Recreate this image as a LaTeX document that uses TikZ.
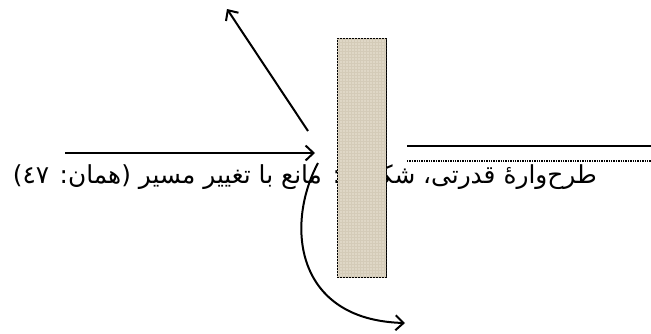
\documentclass[tikz,border=0pt]{standalone}
\usepackage{fontspec}
\newfontfamily\arabicfont[Script=Arabic]{DejaVu Sans}
\TeXXeTstate=1
\usetikzlibrary{arrows.meta,patterns}
\definecolor{wallbeige}{RGB}{223,215,198}
\definecolor{wallgrain}{RGB}{212,203,184}

\begin{document}
\begin{tikzpicture}[x=1pt,y=-1pt,
  barrier/.style ={draw, thin, fill=wallbeige, postaction={pattern=grid, pattern color=wallgrain},
    minimum width=49pt, minimum height=239pt, inner sep=0pt},
  ray/.style ={line width=2pt, -{Straight Barb[length=8pt,width=15pt,line width=2pt]}}]
 \useasboundingbox (0,0) rectangle (651,333);
 \node[anchor=base east, inner sep=0pt, font=\arabicfont\fontsize{24.8}{28}\selectfont] (caption) at (597,183)
   {\beginR طرح‌وارهٔ قدرتی، شکل ۵: مانع با تغییر مسیر (همان: \beginL ٤٧\endL)\endR};
 \node[barrier] (wall) at (361.5,157.5) {};
 \coordinate (start) at (65,153);
 \coordinate (front) at (315,153);
 \coordinate (bounce) at (308,131);
 \coordinate (back) at (227,9);
 \coordinate (turn) at (318,163);
 \coordinate (away) at (405,323);
 \coordinate (beyond) at (407,146);
 \coordinate (edge) at (651,146);
 \coordinate (beyondlow) at (407,161);
 \coordinate (edgelow) at (651,161);
 \draw[ray] (start) -- (front);
 \draw[ray] (bounce) -- (back);
 \draw[ray] (turn) .. controls (285,225) and (295,320) .. (away);
 \draw[line width=2pt] (beyond) -- (edge);
 \draw[line width=1.4pt, densely dotted] (beyondlow) -- (edgelow);
\end{tikzpicture}
\end{document}
